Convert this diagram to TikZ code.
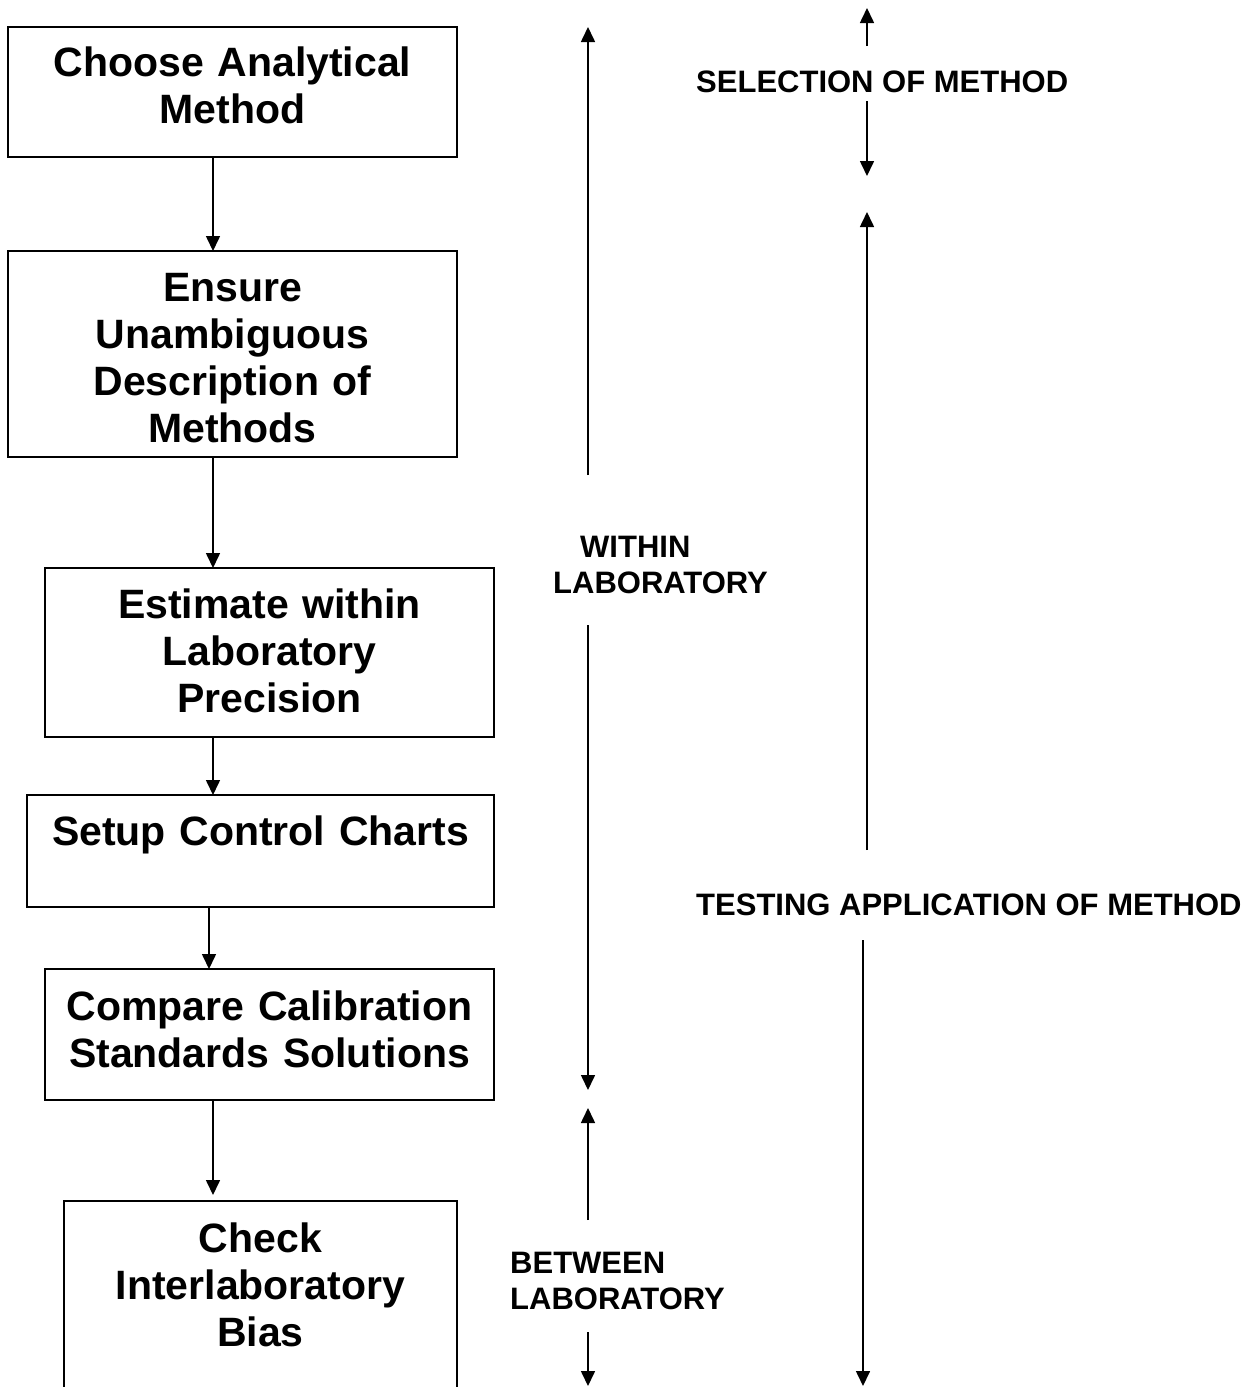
\documentclass[tikz,border=0pt]{standalone}
\usepackage{fontspec}
\setmainfont{Liberation Sans}
\usetikzlibrary{arrows.meta}
\begin{document}
\begin{tikzpicture}[x=1pt,y=-1pt,
  box/.style={draw, line width=1.6pt, anchor=north west, inner sep=0pt, outer sep=0pt},
  boxtxt/.style={anchor=base, align=center, inner sep=0pt, font=\fontsize{41}{47}\selectfont\bfseries},
  lab/.style={anchor=base west, align=left, inner sep=0pt, font=\fontsize{31}{36}\selectfont\bfseries},
  arr/.style={line width=1.6pt, -{Triangle[length=15pt,width=14pt]}}]
\useasboundingbox (0,0) rectangle (1257,1387);
% boxes
\node[box, minimum width=449pt, minimum height=130pt] (b1) at (8,27) {};
\node[box, minimum width=449pt, minimum height=206pt] (b2) at (8,251) {};
\node[box, minimum width=449pt, minimum height=169pt] (b3) at (45,568) {};
\node[box, minimum width=467pt, minimum height=112pt] (b4) at (27,795) {};
\node[box, minimum width=449pt, minimum height=131pt] (b5) at (45,969) {};
\node[box, draw=none, minimum width=393pt, minimum height=186pt] (b6) at (64,1201) {};
\draw[line width=1.6pt] (b6.south west) -- (b6.north west) -- (b6.north east) -- (b6.south east);
% box texts
\node[boxtxt, text width=449pt] (t1) at (232.5,76.5) {Choose Analytical\\Method};
\node[boxtxt, text width=449pt] (t2) at (232.5,301.5) {Ensure\\Unambiguous\\Description of\\Methods};
\node[boxtxt, text width=449pt] (t3) at (269.5,618.5) {Estimate within\\Laboratory\\Precision};
\node[boxtxt, text width=467pt] (t4) at (260.5,845) {Setup Control Charts};
\node[boxtxt, text width=449pt] (t5) at (269.5,1020) {Compare Calibration\\Standards Solutions};
\node[boxtxt, text width=393pt] (t6) at (260.5,1252) {Check\\Interlaboratory\\Bias};
% flow arrows
\draw[arr] ([xshift=-19.5pt]b1.south) -- ([xshift=-19.5pt]b2.north);
\draw[arr] ([xshift=-19.5pt]b2.south) -- ([xshift=-56.5pt]b3.north);
\draw[arr] ([xshift=-56.5pt]b3.south) -- ([xshift=-47.5pt]b4.north);
\draw[arr] ([xshift=-51.5pt]b4.south) -- ([xshift=-60.5pt]b5.north);
\draw[arr, shorten >=6pt] ([xshift=-56.5pt]b5.south) -- ([xshift=-47.5pt]b6.north);
% side labels
\node[lab] (sel) at (696,92) {SELECTION OF METHOD};
\node[lab] (witA) at (580,557) {WITHIN};
\node[lab] (witB) at (553,593) {LABORATORY};
\node[lab] (test) at (696,915) {TESTING APPLICATION OF METHOD};
\node[lab, text width=260pt] (betw) at (510,1273) {BETWEEN\\LABORATORY};
% side arrow end points
\coordinate (wa0) at (588,475); \coordinate (wa1) at (588,27);
\coordinate (wb0) at (588,625); \coordinate (wb1) at (588,1090);
\coordinate (ba0) at (588,1220); \coordinate (ba1) at (588,1108);
\coordinate (bb0) at (588,1332); \coordinate (bb1) at (588,1386);
\coordinate (sa0) at (867,46); \coordinate (sa1) at (867,8);
\coordinate (sb0) at (867,101); \coordinate (sb1) at (867,176);
\coordinate (ta0) at (867,850); \coordinate (ta1) at (867,212);
\coordinate (tb0) at (863,940); \coordinate (tb1) at (863,1386);
\draw[arr] (wa0) -- (wa1);
\draw[arr] (wb0) -- (wb1);
\draw[arr] (ba0) -- (ba1);
\draw[arr] (bb0) -- (bb1);
\draw[arr] (sa0) -- (sa1);
\draw[arr] (sb0) -- (sb1);
\draw[arr] (ta0) -- (ta1);
\draw[arr] (tb0) -- (tb1);
\end{tikzpicture}
\end{document}
